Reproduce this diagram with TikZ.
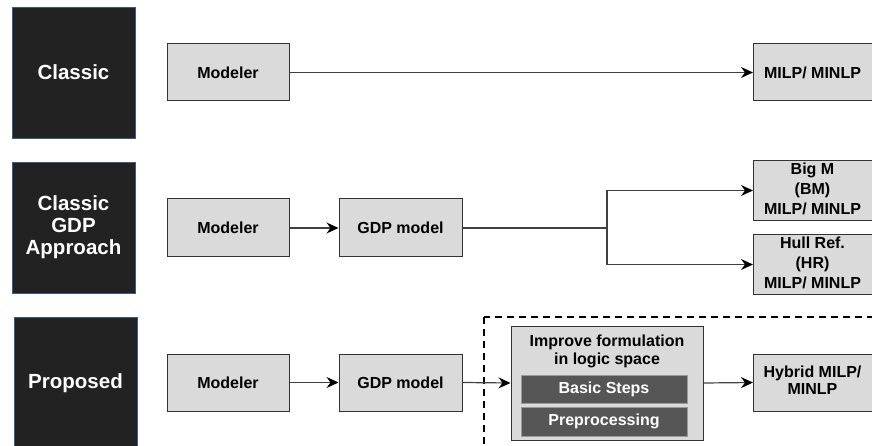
\documentclass[tikz,border=0pt]{standalone}
\usepackage{fontspec}
\setmainfont{Liberation Sans}
\usetikzlibrary{arrows.meta}
\definecolor{labelfill}{HTML}{222222}
\definecolor{labelborder}{HTML}{3A5A8C}
\definecolor{boxfill}{HTML}{DADADA}
\definecolor{boxborder}{HTML}{333333}
\definecolor{innerfill}{HTML}{565656}
\definecolor{innerborder}{HTML}{9A9A9A}
\definecolor{linecol}{HTML}{404040}
\tikzset{
  lbl/.style={draw=labelborder, fill=labelfill, line width=0.8pt, inner sep=0pt, text=white,
    font=\fontsize{20.5}{22}\selectfont\bfseries, align=center},
  gbox/.style={draw=boxborder, fill=boxfill, line width=1pt, inner sep=0pt,
    font=\fontsize{16}{20}\selectfont\bfseries, align=center},
  ibox/.style={draw=innerborder, fill=innerfill, line width=0.8pt, inner sep=0pt, text=white,
    font=\fontsize{16}{18}\selectfont\bfseries},
  conn/.style={draw=linecol, line width=1.2pt},
  arr/.style={conn, -{Stealth[length=12pt,width=11pt,inset=4pt,color=black]}}
}
\begin{document}
\begin{tikzpicture}[x=1pt,y=-1pt]
\useasboundingbox (0,0) rectangle (872,446);
\clip (0,0) rectangle (872,446);
% row 1
\node[lbl, minimum width=123pt, minimum height=131pt] (L1) at (73.5,72.5) {Classic};
\node[gbox, minimum width=122pt, minimum height=57pt] (M1) at (228,72.5) {Modeler};
\node[gbox, minimum width=130pt, minimum height=57pt, anchor=west] (R1) at (753,72.5) {\hspace*{-12pt}MILP/ MINLP};
\draw[arr] (M1.east) -- (R1.west);
% row 2
\node[lbl, minimum width=123pt, minimum height=131pt] (L2) at (73.5,227.5) {Classic\\GDP\\Approach};
\node[gbox, minimum width=122pt, minimum height=58pt] (M2) at (228,228) {Modeler};
\node[gbox, minimum width=123pt, minimum height=58pt] (G2) at (400.5,228) {GDP model};
\node[gbox, minimum width=130pt, minimum height=57pt, anchor=west] (BM) at (753,190.5) {\hspace*{-12pt}\begin{tabular}{@{}c@{}}Big M\\(BM)\\MILP/ MINLP\end{tabular}};
\node[gbox, minimum width=130pt, minimum height=57pt, anchor=west] (HR) at (753,264.5) {\hspace*{-12pt}\begin{tabular}{@{}c@{}}Hull Ref.\\(HR)\\MILP/ MINLP\end{tabular}};
\draw[arr] (M2.east) -- (G2.west);
\coordinate (B) at (607,228);
\draw[conn] (G2.east) -- (B);
\draw[arr] (B) |- (BM.west);
\draw[arr] (B) |- (HR.west);
% row 3
\node[lbl, minimum width=123pt, minimum height=150pt, anchor=north] (L3) at (75.5,317) {};
\node[text=white, font=\fontsize{20.5}{22}\selectfont\bfseries] (L3t) at (75.5,383) {Proposed};
\node[gbox, minimum width=122pt, minimum height=57pt] (M3) at (228,382.5) {Modeler};
\node[gbox, minimum width=123pt, minimum height=57pt] (G3) at (400.5,382.5) {GDP model};
\draw[draw=black, line width=1.5pt, dash pattern=on 7pt off 5pt] (484,317) rectangle (900,480);
\node[gbox, minimum width=192pt, minimum height=114pt] (IMP) at (607,383) {};
\node[font=\fontsize{16}{18}\selectfont\bfseries, align=center, inner sep=0pt] (IMPt) at (607,351.5) {Improve formulation\\in logic space};
\node[ibox, minimum width=166pt, minimum height=28pt] (BS) at (604,389) {Basic Steps};
\node[ibox, minimum width=166pt, minimum height=29pt] (PP) at (604,421.5) {Preprocessing};
\node[gbox, minimum width=130pt, minimum height=57pt, anchor=west, font=\fontsize{16}{17}\selectfont\bfseries] (HY) at (753,382.5) {\hspace*{-12pt}\begin{tabular}{@{}c@{}}Hybrid MILP/\\MINLP\end{tabular}};
\draw[arr] (M3.east) -- (G3.west);
\draw[arr] (G3.east) -- (IMP.west);
\draw[arr] (IMP.east) -- (HY.west);
\end{tikzpicture}
\end{document}
